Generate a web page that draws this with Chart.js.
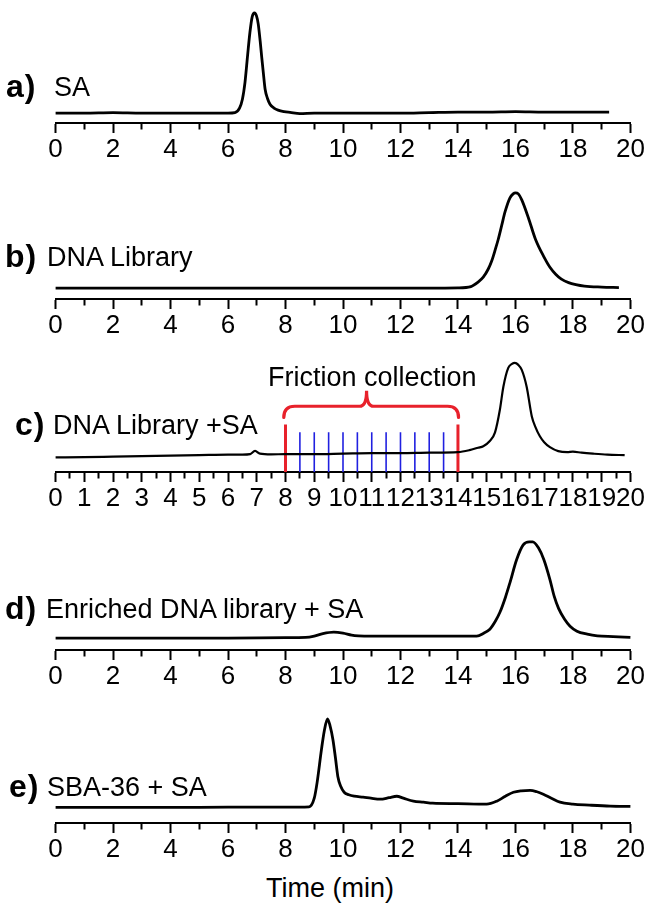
<!DOCTYPE html>
<html>
<head>
<meta charset="utf-8">
<script src="https://cdn.jsdelivr.net/npm/chart.js@4.4.1/dist/chart.umd.min.js"></script>
<style>
  body { margin: 0; background: #fff; }
  #fig { position: relative; width: 646px; height: 907px; font-family: "Liberation Sans", Arial, sans-serif; color: #000; }
  #fig canvas { position: absolute; left: 0; }
  .lbl { position: absolute; font-size: 27px; line-height: 27px; white-space: nowrap; }
  .tag { position: absolute; font-size: 32px; line-height: 32px; font-weight: bold; white-space: nowrap; letter-spacing: 1px; }
</style>
</head>
<body>
<div id="fig">
  <canvas id="pa" width="646" height="165"></canvas>
  <canvas id="pb" width="646" height="165"></canvas>
  <canvas id="pc" width="646" height="165"></canvas>
  <canvas id="pd" width="646" height="165"></canvas>
  <canvas id="pe" width="646" height="165"></canvas>

  <span class="tag" style="left:6px;top:70px">a)</span>
  <span class="lbl" style="left:54px;top:74px">SA</span>

  <span class="tag" style="left:5px;top:240px">b)</span>
  <span class="lbl" style="left:47px;top:244px">DNA Library</span>

  <span class="lbl" style="left:268px;top:364px">Friction collection</span>
  <span class="tag" style="left:15px;top:408px">c)</span>
  <span class="lbl" style="left:53px;top:412px">DNA Library +SA</span>

  <span class="tag" style="left:5px;top:592px">d)</span>
  <span class="lbl" style="left:46px;top:596px">Enriched DNA library + SA</span>

  <span class="tag" style="left:9px;top:770px">e)</span>
  <span class="lbl" style="left:47px;top:774px">SBA-36 + SA</span>

  <span class="lbl" style="left:266px;top:875px">Time (min)</span>
</div>

<script>
// Время удерживания (мин) и сигнал (отн. ед.) для каждой хроматограммы
const timeA = [0, 1, 2, 3, 4, 5, 6, 6.24, 6.4, 6.5, 6.59, 6.68, 6.76, 6.84, 6.92, 6.99, 7.05, 7.12, 7.17, 7.23, 7.29, 7.37, 7.46, 7.6, 7.74, 7.95, 8.16, 8.5, 9, 10, 11, 12, 13, 14, 15, 16, 17, 18, 19, 19.26];
const signalA = [0.10, 0.10, 0.105, 0.10, 0.10, 0.10, 0.10, 0.105, 0.15, 0.24, 0.41, 0.68, 0.91, 1.07, 1.11, 1.08, 1.0, 0.82, 0.67, 0.5, 0.34, 0.25, 0.19, 0.15, 0.13, 0.115, 0.107, 0.095, 0.10, 0.10, 0.10, 0.10, 0.105, 0.11, 0.11, 0.115, 0.11, 0.11, 0.11, 0.11];

const timeB = [0, 2, 4, 6, 8, 10, 12, 13, 14, 14.45, 14.7, 14.88, 15.05, 15.17, 15.3, 15.4, 15.52, 15.64, 15.81, 15.92, 16.0, 16.1, 16.22, 16.45, 16.7, 17.0, 17.2, 17.4, 17.6, 17.85, 18.1, 18.4, 19.0, 19.6];
const signalB = [0.11, 0.11, 0.11, 0.11, 0.11, 0.11, 0.11, 0.11, 0.112, 0.125, 0.17, 0.22, 0.3, 0.38, 0.5, 0.6, 0.74, 0.88, 1.02, 1.06, 1.07, 1.06, 1.0, 0.82, 0.6, 0.42, 0.32, 0.25, 0.2, 0.165, 0.145, 0.13, 0.12, 0.115];

const timeC = [0, 1, 2, 3, 4, 5, 6, 6.5, 6.77, 6.94, 7.11, 7.5, 8, 9, 10, 11, 12, 13, 14, 14.4, 14.7, 14.88, 15.1, 15.29, 15.46, 15.58, 15.75, 15.88, 15.98, 16.1, 16.22, 16.39, 16.57, 16.7, 16.85, 17.0, 17.2, 17.49, 17.8, 18.0, 18.3, 18.7, 19.2, 19.8];
const signalC = [0.147, 0.15, 0.155, 0.16, 0.165, 0.17, 0.175, 0.175, 0.18, 0.213, 0.185, 0.178, 0.18, 0.18, 0.185, 0.19, 0.19, 0.195, 0.20, 0.22, 0.245, 0.26, 0.31, 0.40, 0.63, 0.86, 1.05, 1.09, 1.10, 1.08, 1.03, 0.86, 0.56, 0.45, 0.36, 0.3, 0.25, 0.21, 0.2, 0.205, 0.195, 0.185, 0.175, 0.17];

const timeD = [0, 2, 4, 6, 8, 8.7, 9.0, 9.3, 9.68, 10.0, 10.3, 10.54, 11, 12, 13, 14, 14.65, 14.9, 15.11, 15.3, 15.46, 15.65, 15.81, 16.04, 16.27, 16.48, 16.6, 16.8, 16.99, 17.2, 17.35, 17.5, 17.71, 17.9, 18.14, 18.5, 18.85, 19.4, 20];
const signalD = [0.12, 0.12, 0.12, 0.12, 0.125, 0.127, 0.14, 0.165, 0.18, 0.17, 0.15, 0.143, 0.14, 0.14, 0.14, 0.14, 0.14, 0.17, 0.21, 0.29, 0.38, 0.53, 0.68, 0.91, 1.06, 1.09, 1.09, 1.03, 0.91, 0.71, 0.54, 0.42, 0.31, 0.24, 0.19, 0.16, 0.143, 0.135, 0.127];

const timeE = [0, 2, 4, 6, 8, 8.82, 9.0, 9.1, 9.25, 9.35, 9.46, 9.55, 9.65, 9.74, 9.82, 9.92, 10.04, 10.2, 10.39, 10.7, 10.97, 11.29, 11.6, 11.87, 12.1, 12.45, 12.8, 13.12, 14, 15.0, 15.35, 15.65, 15.93, 16.2, 16.51, 16.75, 16.97, 17.25, 17.55, 18.0, 18.57, 19.3, 20];
const signalE = [0.157, 0.157, 0.157, 0.16, 0.16, 0.163, 0.25, 0.41, 0.74, 0.93, 1.05, 0.98, 0.84, 0.65, 0.47, 0.37, 0.31, 0.285, 0.27, 0.26, 0.25, 0.24, 0.255, 0.27, 0.25, 0.22, 0.21, 0.20, 0.195, 0.19, 0.22, 0.27, 0.31, 0.325, 0.33, 0.315, 0.29, 0.25, 0.21, 0.19, 0.18, 0.17, 0.167];

// Сбор фракций (панель c): границы и промежуточные отсечки
const fractionEdges = [8, 14];
const fractionCuts = [8.5, 9, 9.5, 10, 10.5, 11, 11.5, 12, 12.5, 13, 13.5];
const edgeHeight = 0.48;
const cutHeight = 0.40;

// Деления оси X
const ticksEvery1 = [0, 1, 2, 3, 4, 5, 6, 7, 8, 9, 10, 11, 12, 13, 14, 15, 16, 17, 18, 19, 20];
const ticksEvery05 = [0, 0.5, 1, 1.5, 2, 2.5, 3, 3.5, 4, 4.5, 5, 5.5, 6, 6.5, 7, 7.5, 8, 8.5, 9, 9.5, 10, 10.5, 11, 11.5, 12, 12.5, 13, 13.5, 14, 14.5, 15, 15.5, 16, 16.5, 17, 17.5, 18, 18.5, 19, 19.5, 20];

const FONT = '"Liberation Sans", Arial, sans-serif';

function pts(xs, ys) {
    return xs.map((x, i) => ({ x: x, y: ys[i] }));
}

// Вертикальные отрезки с разрывами (null) между ними
function segments(xs, h) {
    const out = [];
    xs.forEach(x => {
        out.push({ x: x, y: 0 });
        out.push({ x: x, y: h });
        out.push({ x: x, y: null });
    });
    return out;
}

// Фигурная скобка над зоной сбора фракций
const bracePlugin = {
    id: 'brace',
    afterDatasetsDraw(chart) {
        const xs = chart.scales.x, ys = chart.scales.y;
        const x0 = xs.getPixelForValue(7.94), x1 = xs.getPixelForValue(14.02);
        const xm = xs.getPixelForValue(10.82);
        const yEnd = ys.getPixelForValue(0.55);
        const yH = ys.getPixelForValue(0.663);
        const yTip = ys.getPixelForValue(0.82);
        const r = 11;
        const ctx = chart.ctx;
        ctx.save();
        ctx.strokeStyle = '#e8212b';
        ctx.lineWidth = 3.2;
        ctx.lineCap = 'round';
        ctx.beginPath();
        ctx.moveTo(x0, yEnd);
        ctx.quadraticCurveTo(x0, yH, x0 + r, yH);
        ctx.lineTo(xm - 7, yH);
        ctx.quadraticCurveTo(xm, yH, xm, yTip);
        ctx.quadraticCurveTo(xm, yH, xm + 7, yH);
        ctx.lineTo(x1 - r, yH);
        ctx.quadraticCurveTo(x1, yH, x1, yEnd);
        ctx.stroke();
        ctx.restore();
    }
};

function makePanel(id, axisY, datasets, tickValues, labelEvery, plugins) {
    const cv = document.getElementById(id);
    cv.style.top = (axisY - 120) + 'px';
    return new Chart(cv, {
        type: 'line',
        data: { datasets: datasets },
        options: {
            responsive: false,
            animation: false,
            events: [],
            layout: { padding: { left: 55.6, right: 15.6, top: 0, bottom: 2.8 } },
            plugins: { legend: { display: false }, tooltip: { enabled: false } },
            elements: { point: { radius: 0 } },
            scales: {
                x: {
                    type: 'linear',
                    min: 0,
                    max: 20,
                    afterBuildTicks: scale => { scale.ticks = tickValues.map(v => ({ value: v })); },
                    ticks: {
                        autoSkip: false,
                        maxRotation: 0,
                        padding: 1,
                        color: '#000',
                        font: { family: FONT, size: 26 },
                        callback: v => (Math.abs(v / labelEvery - Math.round(v / labelEvery)) < 1e-6 ? String(v) : '')
                    },
                    grid: {
                        drawOnChartArea: false,
                        drawTicks: true,
                        tickLength: 10,
                        tickWidth: 2,
                        tickColor: '#000',
                        tickBorderDash: c => {
                            const v = c.tick ? c.tick.value : 0;
                            return Math.abs(v / labelEvery - Math.round(v / labelEvery)) < 1e-6 ? [] : [5.5, 40];
                        }
                    },
                    border: { display: true, color: '#000', width: 2 }
                },
                y: { display: false, min: 0, max: 1.2 }
            }
        },
        plugins: plugins || []
    });
}

function trace(xs, ys, w) {
    return {
        data: pts(xs, ys),
        borderColor: '#000',
        borderWidth: w,
        fill: false,
        cubicInterpolationMode: 'monotone',
        clip: false
    };
}

window.onload = function () {
    makePanel('pa', 124, [trace(timeA, signalA, 2.8)], ticksEvery1, 2);
    makePanel('pb', 300, [trace(timeB, signalB, 2.8)], ticksEvery1, 2);
    makePanel('pc', 473, [
        trace(timeC, signalC, 2.2),
        { data: segments(fractionCuts, cutHeight), borderColor: '#2020e0', borderWidth: 1.6, spanGaps: false, tension: 0 },
        { data: segments(fractionEdges, edgeHeight), borderColor: '#e8212b', borderWidth: 3, spanGaps: false, tension: 0 }
    ], ticksEvery05, 1, [bracePlugin]);
    makePanel('pd', 651, [trace(timeD, signalD, 2.8)], ticksEvery1, 2);
    makePanel('pe', 824, [trace(timeE, signalE, 2.8)], ticksEvery1, 2);
};
</script>
</body>
</html>
